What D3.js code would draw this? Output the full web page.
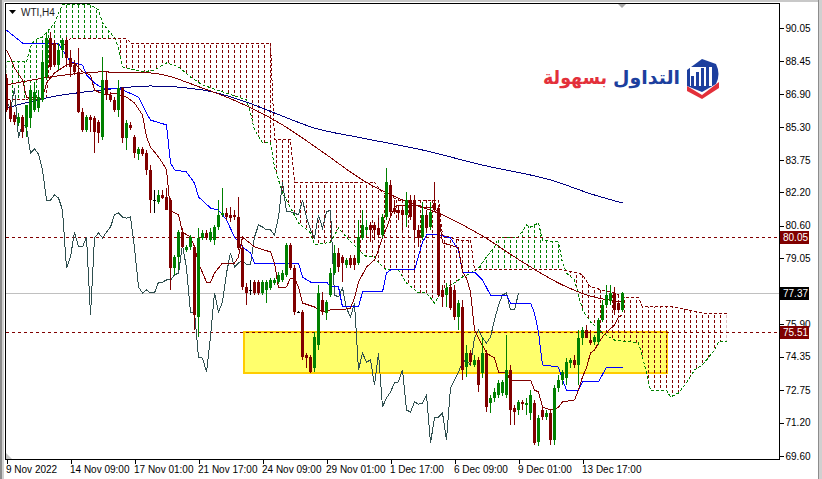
<!DOCTYPE html>
<html><head><meta charset="utf-8">
<script src="https://cdn.jsdelivr.net/npm/d3@7"></script>
<style>body{margin:0;background:#fff;overflow:hidden}svg{display:block}</style>
</head><body>
<svg id="c" width="822" height="479"></svg>
<script>
const symbolLabel = "WTI,H4";
const open = [87.66,86.28,85.89,85.51,85.80,85.32,85.75,86.13,86.23,86.61,
87.71,89.57,89.33,88.28,89.00,89.48,88.62,88.28,87.95,86.04,
85.18,85.80,85.75,85.56,84.84,87.57,86.85,86.61,86.13,87.18,
84.79,85.42,84.84,84.03,84.27,84.08,83.27,81.83,81.74,82.07,
81.98,81.83,78.58,79.11,80.30,79.44,79.59,79.59,76.24,80.02,
80.26,79.92,79.92,80.54,81.12,81.21,81.12,81.12,81.02,79.54,
77.68,77.53,77.91,77.91,77.39,77.53,77.63,77.87,77.91,78.01,
78.25,79.68,78.58,76.48,76.48,74.43,74.33,73.81,74.90,77.05,
76.43,77.29,78.34,79.30,79.11,78.73,79.06,79.06,78.82,80.02,
80.40,80.64,80.64,80.49,80.16,81.02,82.55,81.45,81.35,81.35,
81.12,81.83,81.83,80.40,80.06,81.12,80.54,81.69,81.45,77.53,
77.29,77.68,77.53,76.24,76.72,73.85,74.52,73.95,74.19,73.57,
74.52,72.13,72.37,72.51,72.61,72.51,73.71,71.89,71.80,72.18,
72.04,71.65,72.13,70.27,71.80,71.46,71.65,70.37,72.85,73.23,
73.33,74.04,74.19,73.95,75.24,75.62,75.14,75.05,75.05,76.10,
76.81,77.01,77.39,76.91,76.58];
const high = [87.85,86.61,86.04,85.99,85.89,85.99,87.18,87.47,87.09,89.00,
89.86,89.86,89.48,89.33,89.57,89.62,89.00,88.52,89.10,86.23,
85.89,85.89,85.85,85.65,88.67,87.95,86.99,86.75,87.57,87.23,
85.65,85.56,84.94,84.36,84.36,84.22,83.50,82.31,82.31,82.31,
82.41,81.93,79.20,80.40,80.49,79.68,80.16,79.68,80.49,80.40,
80.40,80.49,80.64,81.83,82.41,81.45,81.50,81.35,81.98,79.68,
77.87,78.01,78.01,78.01,78.01,78.01,78.10,78.10,78.39,78.49,
79.78,79.78,78.73,76.53,76.58,74.52,74.43,75.52,77.77,77.44,
77.05,78.58,79.68,79.54,79.20,79.06,79.20,79.20,80.88,81.35,
80.88,80.78,80.78,81.12,81.16,83.36,82.79,81.83,81.59,81.59,
82.21,82.07,82.07,80.64,81.74,81.35,81.74,82.69,81.59,77.77,
77.87,77.87,77.77,77.05,77.05,74.90,74.66,74.43,74.33,75.29,
74.66,72.51,72.85,73.23,73.23,75.38,73.95,72.04,72.28,72.28,
72.37,72.75,72.28,71.56,72.04,71.80,71.80,73.00,73.47,73.71,
74.28,74.28,74.43,75.62,75.76,75.86,75.62,75.38,76.19,77.05,
77.77,77.77,77.68,77.05,77.44];
const low = [86.04,85.56,85.42,85.37,84.79,84.84,85.27,86.04,86.04,86.51,
87.57,88.04,88.19,88.04,88.62,88.19,87.71,87.80,85.99,85.08,
85.08,85.08,84.08,84.56,84.70,86.61,86.51,86.04,85.80,84.56,
84.22,85.18,83.84,83.74,83.93,83.03,81.21,81.21,81.64,81.88,
81.35,77.53,78.25,78.49,79.54,79.35,79.44,75.62,75.29,79.92,
79.92,79.82,79.68,80.40,81.02,80.88,80.78,80.88,79.44,77.53,
76.81,77.29,77.29,77.29,77.29,76.91,77.53,77.77,77.82,77.91,
78.15,78.49,76.34,76.43,74.19,73.81,73.57,73.61,74.66,76.34,
76.10,77.20,78.25,78.39,77.91,78.58,78.58,78.49,78.73,79.92,
80.16,79.82,79.92,80.06,80.02,80.88,81.12,81.16,80.88,80.40,
80.54,80.88,79.92,79.59,79.92,80.40,80.40,81.26,77.20,76.72,
76.72,76.58,76.10,75.62,73.23,73.38,73.95,73.85,72.66,73.33,
71.70,71.65,72.18,72.37,72.47,72.37,71.08,71.08,71.56,71.80,
71.56,71.32,70.13,70.08,71.32,71.32,70.13,70.13,72.66,73.00,
73.00,73.81,73.81,73.00,74.90,75.24,74.90,74.90,74.90,76.00,
76.72,76.81,76.34,76.43,76.48];
const close = [86.13,85.70,85.56,85.80,85.08,86.37,87.09,86.99,86.75,88.43,
89.57,88.19,88.28,89.00,89.48,88.62,88.19,87.95,86.04,85.18,
85.80,85.65,85.08,85.03,87.57,86.85,86.61,86.13,87.18,84.79,
85.51,85.27,84.08,84.27,84.03,83.27,81.83,81.83,82.07,81.93,
81.35,78.58,79.11,80.30,79.59,79.59,80.06,76.34,80.02,80.26,
80.02,80.30,80.54,81.12,81.21,81.02,80.97,81.02,79.54,77.68,
77.39,77.53,77.39,77.39,77.91,77.91,78.01,78.01,78.25,78.34,
79.68,78.58,76.48,76.48,74.33,74.28,73.61,75.29,77.39,76.48,
76.96,78.34,79.30,78.63,78.82,78.97,78.73,78.73,80.06,80.64,
80.54,80.40,80.40,80.16,81.02,82.69,81.26,81.26,81.21,81.12,
81.83,81.02,80.40,80.02,81.12,80.49,81.26,81.35,77.29,77.20,
77.63,76.67,76.24,76.91,73.71,74.52,74.09,74.19,73.00,74.52,
71.94,72.37,72.66,73.09,73.14,73.71,71.80,71.70,72.18,72.08,
72.13,72.51,70.22,71.42,71.46,71.65,70.37,72.85,73.23,73.61,
74.09,74.19,73.95,75.24,75.62,75.24,75.00,75.29,76.10,76.81,
77.29,77.39,76.58,76.58,77.37];

// Ichimoku lines as [bar, price]
const tenkanPts = [[0,89.00],[1,88.62],[2,88.14],[4,87.57],[5,86.75],[7,86.61],[9,86.71],[10,87.42],[12,87.90],[15,88.28],[17,88.38],[19,87.95],[21,87.80],[22,87.09],[24,86.90],[25,86.85],[27,86.94],[30,86.75],[32,86.47],[34,85.89],[35,84.84],[36,84.36],[38,83.89],[39,83.60],[40,83.27],[41,81.31],[43,81.12],[44,80.30],[46,80.06],[47,79.59],[48,78.82],[50,77.91],[51,77.91],[52,78.34],[54,78.82],[57,78.82],[58,79.11],[59,80.06],[62,79.59],[66,79.35],[67,78.82],[68,77.63],[70,77.68],[71,78.10],[72,78.10],[73,77.68],[74,76.91],[77,76.72],[79,76.48],[81,76.58],[84,76.58],[86,76.67],[87,77.15],[88,77.91],[90,78.63],[92,78.97],[93,79.44],[94,80.06],[95,80.49],[96,81.02],[97,81.50],[98,81.59],[103,81.59],[104,81.50],[107,81.45],[108,81.21],[109,79.78],[111,79.68],[113,79.54],[114,78.39],[115,78.10],[116,77.44],[117,75.62],[118,75.24],[120,74.52],[122,74.28],[123,73.61],[125,73.57],[126,73.23],[131,73.23],[132,72.75],[133,72.66],[134,71.94],[136,71.80],[137,71.80],[138,71.94],[139,72.18],[142,72.28],[143,72.75],[144,73.38],[145,73.81],[146,74.52],[147,74.66],[148,75.00],[149,75.29],[150,75.52],[152,75.86],[153,76.24],[154,76.34]];
const kijunPts = [[0,89.95],[4,89.33],[13,89.33],[14,89.00],[16,88.43],[19,88.28],[20,87.80],[22,87.42],[24,87.18],[28,87.18],[33,86.75],[35,85.99],[36,85.65],[40,85.42],[41,83.60],[42,83.27],[45,83.17],[47,82.64],[48,81.98],[51,81.45],[53,81.35],[55,80.88],[57,80.06],[59,79.59],[61,79.30],[62,78.82],[73,78.82],[74,78.15],[76,77.91],[80,77.91],[81,77.68],[83,77.68],[84,76.72],[88,76.72],[89,77.44],[94,77.44],[95,78.34],[96,78.49],[102,78.49],[104,79.82],[105,80.16],[108,80.16],[111,80.02],[113,79.44],[114,78.39],[117,78.39],[119,78.01],[121,77.29],[125,77.29],[126,76.91],[131,76.91],[132,76.43],[133,75.52],[134,73.95],[138,73.85],[139,73.23],[140,72.75],[143,72.75],[144,73.14],[148,73.14],[150,73.85],[154,73.85]];
const spanAPts = [[0,88.43],[5,88.43],[6,89.14],[7,89.48],[9,89.62],[11,90.05],[12,90.29],[13,90.77],[14,91.15],[21,91.15],[23,90.91],[24,90.29],[26,89.81],[27,89.57],[28,89.14],[29,88.19],[30,88.14],[34,87.95],[37,88.04],[40,88.38],[43,88.19],[46,87.71],[49,87.33],[60,86.61],[61,85.99],[62,85.18],[64,84.56],[66,84.56],[67,83.41],[69,82.17],[70,81.83],[73,80.73],[76,80.26],[77,79.68],[81,79.82],[83,80.49],[85,80.06],[88,79.44],[90,79.11],[92,79.11],[93,78.82],[95,78.49],[98,78.49],[100,77.87],[103,77.39],[105,77.39],[107,76.91],[109,77.53],[112,77.87],[114,78.15],[116,78.34],[118,78.58],[120,79.11],[122,79.59],[123,80.06],[128,80.06],[130,80.64],[131,80.54],[133,80.73],[134,79.92],[138,79.82],[139,78.82],[140,78.34],[142,78.01],[144,76.58],[146,76.00],[149,75.48],[152,75.14],[156,75.05],[158,75.00],[159,74.33],[160,73.57],[161,72.75],[165,72.75],[166,72.42],[168,72.61],[170,73.09],[172,73.71],[174,73.95],[177,74.66],[178,75.05],[180,75.05]];
const spanBPts = [[0,86.61],[5,86.61],[6,86.75],[10,86.75],[11,89.24],[15,89.24],[16,89.57],[30,89.57],[31,89.33],[66,89.33],[67,84.70],[71,84.70],[72,82.69],[92,82.69],[94,82.17],[98,81.83],[108,81.83],[109,80.16],[113,79.92],[116,79.92],[117,78.49],[139,78.49],[143,78.34],[144,78.25],[146,77.68],[149,77.53],[152,77.39],[155,77.15],[158,77.15],[159,76.72],[167,76.72],[168,76.67],[174,76.43],[180,76.43]];
const chikouShift = 26;
// moving averages [bar, price]
const maRedPts = [[0,87.33],[11,87.71],[24,87.95],[36,87.90],[49,87.18],[59,86.42],[69,85.42],[79,84.13],[89,82.79],[99,81.83],[109,81.12],[119,80.11],[129,78.87],[139,77.77],[146,77.24],[154,76.96]];
const maNavyPts = [[0,86.23],[11,86.75],[24,87.09],[36,87.28],[49,87.09],[60,86.51],[67,85.99],[77,85.27],[89,84.79],[104,84.22],[119,83.50],[136,82.79],[147,82.07],[154,81.69]];

const levelLines = [80.05, 75.51];
const bidPrice = 77.37;
const zoneBars = [59.25, 165];
const zonePrices = [75.51, 73.57];

const priceTicks = [90.05,88.45,86.90,85.30,83.75,82.20,80.60,79.05,75.90,74.35,72.75,71.20,69.60];
const timeTickBars = [0,16,32,48,64,80,96,112,128,144];
const timeLabels = ["9 Nov 2022","14 Nov 09:00","17 Nov 01:00","21 Nov 17:00","24 Nov 09:00","29 Nov 01:00","1 Dec 17:00","6 Dec 09:00","9 Dec 01:00","13 Dec 17:00"];
const logoBlue = "التداول";
const logoRed = "بسهولة";

const W = 822, H = 479;
const L = 6, R = 779, T = 4, B = 459;
const svg = d3.select('#c');
const x = d3.scaleLinear().domain([0, 180]).range([6.5, 726.5]);
const y = d3.scaleLinear().domain([69.60, 90.05]).range([456, 28]);
const FONT = "'Liberation Sans', Arial, sans-serif";

// window chrome
svg.append('rect').attr('width', W).attr('height', H).attr('fill', '#fff');
svg.append('rect').attr('x', 0).attr('y', 0).attr('width', W).attr('height', 2).attr('fill', '#c8c8c8');
svg.append('rect').attr('x', 0).attr('y', 0).attr('width', 2).attr('height', H).attr('fill', '#8c8c8c');
svg.append('rect').attr('x', 2).attr('y', 0).attr('width', 2).attr('height', H).attr('fill', '#d0d0d0');
svg.append('rect').attr('x', 818).attr('y', 0).attr('width', 4).attr('height', H).attr('fill', '#d0d0d0');
svg.append('rect').attr('x', 818).attr('y', 0).attr('width', 1).attr('height', H).attr('fill', '#8c8c8c');

const defs = svg.append('defs');
defs.append('clipPath').attr('id', 'plotClip').append('rect')
  .attr('x', L).attr('y', T).attr('width', R - L).attr('height', B - T);
function hatch(id, color) {
  const p = defs.append('pattern').attr('id', id).attr('patternUnits', 'userSpaceOnUse')
    .attr('x', 6).attr('y', 0).attr('width', 6).attr('height', 5);
  p.append('rect').attr('x', 0).attr('y', 0).attr('width', 1).attr('height', 3).attr('fill', color);
}
hatch('hG', '#008000');
hatch('hR', '#800000');
const areaAbove = pts => d3.area().x(d => x(d[0])).y0(0).y1(d => y(d[1]))(pts);
const areaBelow = pts => d3.area().x(d => x(d[0])).y0(d => y(d[1])).y1(H)(pts);
defs.append('clipPath').attr('id', 'aboveB').append('path').attr('d', areaAbove(spanBPts));
defs.append('clipPath').attr('id', 'belowB').append('path').attr('d', areaBelow(spanBPts));
defs.append('clipPath').attr('id', 'aboveA').append('path').attr('d', areaAbove(spanAPts));
defs.append('clipPath').attr('id', 'belowA').append('path').attr('d', areaBelow(spanAPts));

const plot = svg.append('g').attr('clip-path', 'url(#plotClip)').attr('shape-rendering', 'crispEdges');

// yellow zone
plot.append('rect')
  .attr('x', x(zoneBars[0])).attr('width', x(zoneBars[1]) - x(zoneBars[0]))
  .attr('y', y(zonePrices[0])).attr('height', y(zonePrices[1]) - y(zonePrices[0]))
  .attr('fill', '#ffff6c').attr('stroke', '#ffcc00').attr('stroke-width', 2);

// cloud hatch
const cx0 = x(0) - 2, cw = x(180) - x(0) + 4;
plot.append('g').attr('clip-path', 'url(#belowA)').append('rect')
  .attr('x', cx0).attr('width', cw).attr('y', 0).attr('height', H)
  .attr('fill', 'url(#hG)').attr('clip-path', 'url(#aboveB)');
plot.append('g').attr('clip-path', 'url(#belowB)').append('rect')
  .attr('x', cx0).attr('width', cw).attr('y', 0).attr('height', H)
  .attr('fill', 'url(#hR)').attr('clip-path', 'url(#aboveA)');

const line = d3.line().x(d => x(d[0])).y(d => y(d[1]));
plot.append('path').attr('d', line(spanAPts)).attr('fill', 'none').attr('stroke', '#008000').attr('stroke-dasharray', '3,2');
plot.append('path').attr('d', line(spanBPts)).attr('fill', 'none').attr('stroke', '#800000').attr('stroke-dasharray', '3,2');

// level lines
levelLines.forEach(v => {
  const yy = Math.round(y(v)) + 0.5;
  plot.append('line').attr('x1', L).attr('x2', R).attr('y1', yy).attr('y2', yy)
    .attr('stroke', '#800000').attr('stroke-dasharray', '3,3');
});
{
  const yy = Math.round(y(bidPrice)) + 0.5;
  plot.append('line').attr('x1', L).attr('x2', R).attr('y1', yy).attr('y2', yy).attr('stroke', '#c0c0c0');
}

// moving averages
const smooth = d3.line().x(d => x(d[0])).y(d => y(d[1])).curve(d3.curveMonotoneX);
plot.append('path').attr('d', smooth(maNavyPts)).attr('fill', 'none').attr('stroke', '#000080');
plot.append('path').attr('d', smooth(maRedPts)).attr('fill', 'none').attr('stroke', '#800000');

// ichimoku lines
const chikou = close.map((c, i) => [i - chikouShift, c]).filter(d => d[0] >= 0);
plot.append('path').attr('d', line(chikou)).attr('fill', 'none').attr('stroke', '#2f4f4f');
plot.append('path').attr('d', line(kijunPts)).attr('fill', 'none').attr('stroke', '#0000ff');
plot.append('path').attr('d', line(tenkanPts)).attr('fill', 'none').attr('stroke', '#800000');

// candles
const bars = d3.range(close.length).map(i => ({i, o: open[i], h: high[i], l: low[i], c: close[i]}));
const col = d => d.c > d.o ? '#008000' : (d.c < d.o ? '#800000' : '#000000');
const cg = plot.append('g');
cg.selectAll('line.w').data(bars).join('line').attr('class', 'w')
  .attr('x1', d => x(d.i)).attr('x2', d => x(d.i))
  .attr('y1', d => y(d.h)).attr('y2', d => y(d.l)).attr('stroke', col);
cg.selectAll('rect.b').data(bars).join('rect').attr('class', 'b')
  .attr('x', d => x(d.i) - 1.5).attr('width', 3)
  .attr('y', d => Math.min(y(d.o), y(d.c)))
  .attr('height', d => Math.max(1, Math.abs(y(d.o) - y(d.c))))
  .attr('fill', col);

// markers
svg.append('polygon').attr('points', '617,3 627,3 622,8').attr('fill', '#a8a8a8');
svg.append('polygon').attr('points', '6,453 6,459 12,459').attr('fill', '#c4c4c4');

// frame
svg.append('rect').attr('x', 5.5).attr('y', 3.5).attr('width', R - 5).attr('height', B - 3)
  .attr('fill', 'none').attr('stroke', '#000').attr('shape-rendering', 'crispEdges');

// axes
const yAxis = d3.axisRight(y).tickValues(priceTicks).tickSize(4).tickPadding(2).tickFormat(d3.format('.2f'));
const ya = svg.append('g').attr('transform', `translate(${R + 0.5},0)`).call(yAxis);
ya.select('.domain').remove();
ya.selectAll('line').attr('shape-rendering', 'crispEdges');
ya.selectAll('text').attr('font-family', FONT).attr('font-size', 10).attr('fill', '#000');

const xAxis = d3.axisBottom(x).tickValues(timeTickBars).tickSize(4).tickPadding(2).tickFormat((d, i) => timeLabels[i]);
const xa = svg.append('g').attr('transform', `translate(0,${B + 0.5})`).call(xAxis);
xa.select('.domain').remove();
xa.selectAll('line').attr('shape-rendering', 'crispEdges');
xa.selectAll('text').attr('font-family', FONT).attr('font-size', 10).attr('fill', '#000')
  .attr('text-anchor', 'start').attr('x', -1);

// price boxes
const boxes = levelLines.map(v => ({v, bg: '#800000'})).concat([{v: bidPrice, bg: '#000000'}]);
boxes.forEach(b => {
  const yy = y(b.v);
  svg.append('rect').attr('x', 780).attr('y', Math.round(yy) - 6).attr('width', 29).attr('height', 13).attr('fill', b.bg);
  svg.append('text').attr('x', 783).attr('y', Math.round(yy) + 4).attr('font-family', FONT).attr('font-size', 10)
    .attr('fill', '#fff').text(b.v.toFixed(2));
});

// title
svg.append('polygon').attr('points', '9,10 16,10 12.5,14').attr('fill', '#000');
svg.append('text').attr('x', 21).attr('y', 16).attr('font-family', FONT).attr('font-size', 10)
  .attr('fill', '#222').text(symbolLabel);

// logo
const logo = svg.append('g');
logo.append('text').attr('x', 613).attr('y', 84).attr('textLength', 67).attr('lengthAdjust', 'spacingAndGlyphs')
  .attr('font-family', "'DejaVu Sans', sans-serif").attr('font-weight', 'bold').attr('font-size', 19)
  .attr('fill', '#1d3f9e').text(logoBlue);
logo.append('text').attr('x', 543).attr('y', 84).attr('textLength', 64).attr('lengthAdjust', 'spacingAndGlyphs')
  .attr('font-family', "'DejaVu Sans', sans-serif").attr('font-weight', 'bold').attr('font-size', 19)
  .attr('fill', '#e3303a').text(logoRed);
logo.append('path').attr('d', 'M687,70 L702,59 L716,64 Q721,74 716,84 L702,92 L687,86 Z').attr('fill', '#1d3f9e');
logo.append('rect').attr('x', 690).attr('y', 67).attr('width', 22).attr('height', 19).attr('fill', '#fff');
[[691, 76], [696, 72], [701, 68], [706, 65]].forEach(b => {
  logo.append('rect').attr('x', b[0]).attr('y', b[1]).attr('width', 3).attr('height', 86 - b[1]).attr('fill', '#1d3f9e');
});
logo.append('path').attr('d', 'M687,86 L702,95 L719,82 L719,88 L702,99 L687,91 Z').attr('fill', '#e3303a');
</script>
</body></html>
